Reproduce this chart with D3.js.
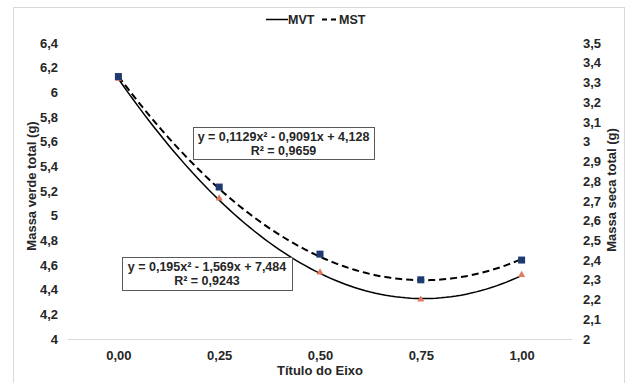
<!DOCTYPE html>
<html>
<head>
<meta charset="utf-8">
<script src="https://cdn.jsdelivr.net/npm/d3@7"></script>
<style>
  body { margin: 0; background: #fff; }
  text { font-family: "Liberation Sans", Arial, sans-serif; font-weight: bold; fill: #262626; }
</style>
</head>
<body>
<div class="canvas"></div>
<script>
// data
const categories = ["0,00", "0,25", "0,50", "0,75", "1,00"]
const mvt = [6.11, 5.14, 4.54, 4.32, 4.52]
const mst = [3.33, 2.77, 2.43, 2.30, 2.40]
const leftTicks = [4, 4.2, 4.4, 4.6, 4.8, 5, 5.2, 5.4, 5.6, 5.8, 6, 6.2, 6.4]
const rightTicks = [2, 2.1, 2.2, 2.3, 2.4, 2.5, 2.6, 2.7, 2.8, 2.9, 3, 3.1, 3.2, 3.3, 3.4, 3.5]
// trendline coefficients (a x^2 + b x + c, x = 1..5)
const mvtFit = [0.195, -1.569, 7.484]
const mstFit = [0.1129, -0.9091, 4.128]
const mvtEq = ["y = 0,195x² - 1,569x + 7,484", "R² = 0,9243"]
const mstEq = ["y = 0,1129x² - 0,9091x + 4,128", "R² = 0,9659"]

/**
 * Dimensions
 */
const dims = { width: 628, height: 383 }
const plot = { left: 68, right: 572, top: 43, bottom: 339 }

const svg = d3.select(".canvas")
    .append("svg")
    .attr("width", dims.width)
    .attr("height", dims.height)

// chart border
svg.append("rect")
    .attr("x", 13.5).attr("y", 7.5)
    .attr("width", 611).attr("height", 380)
    .attr("fill", "none")
    .attr("stroke", "#d9d9d9")

const fmt = d => String(d).replace(".", ",")

/**
 * Scales
 */
const x = d3.scalePoint()
    .domain(categories)
    .range([plot.left, plot.right])
    .padding(0.5)

const yL = d3.scaleLinear().domain([4, 6.4]).range([plot.bottom, plot.top])
const yR = d3.scaleLinear().domain([2, 3.5]).range([plot.bottom, plot.top])

// continuous x for the trendlines
const xt = d3.scaleLinear().domain([1, 5]).range([x(categories[0]), x(categories[4])])

/**
 * Axes
 */
const xAxis = svg.append("g")
    .attr("transform", `translate(0, ${plot.bottom})`)
    .call(d3.axisBottom(x).tickSize(0).tickPadding(12))
xAxis.select(".domain").attr("stroke", "#d9d9d9").attr("d", `M${plot.left},0.5H${plot.right}`)

const leftAxis = svg.append("g")
    .attr("transform", `translate(${plot.left - 4}, 0)`)
    .call(d3.axisLeft(yL).tickValues(leftTicks).tickFormat(fmt).tickSize(0).tickPadding(6))
leftAxis.select(".domain").remove()

const rightAxis = svg.append("g")
    .attr("transform", `translate(${plot.right + 5}, 0)`)
    .call(d3.axisRight(yR).tickValues(rightTicks).tickFormat(fmt).tickSize(0).tickPadding(6))
rightAxis.select(".domain").remove()

svg.selectAll(".tick text")
    .attr("font-size", 13)
    .attr("font-family", "Liberation Sans, Arial, sans-serif")
    .attr("font-weight", "bold")
    .attr("fill", "#262626")

// axis titles
svg.append("text")
    .attr("transform", `translate(36, 186) rotate(-90)`)
    .attr("text-anchor", "middle")
    .attr("font-size", 13)
    .text("Massa verde total (g)")

svg.append("text")
    .attr("transform", `translate(616, 190) rotate(-90)`)
    .attr("text-anchor", "middle")
    .attr("font-size", 13)
    .text("Massa seca total (g)")

svg.append("text")
    .attr("x", 320).attr("y", 375)
    .attr("text-anchor", "middle")
    .attr("font-size", 13)
    .text("Título do Eixo")

/**
 * Trendlines
 */
const poly = (c, t) => c[0] * t * t + c[1] * t + c[2]
const ts = d3.range(1, 5.001, 0.05)

svg.append("path")
    .datum(ts)
    .attr("fill", "none")
    .attr("stroke", "#000")
    .attr("stroke-width", 1.5)
    .attr("d", d3.line().x(t => xt(t)).y(t => yL(poly(mvtFit, t))))

svg.append("path")
    .datum(ts)
    .attr("fill", "none")
    .attr("stroke", "#000")
    .attr("stroke-width", 2)
    .attr("stroke-dasharray", "7,4")
    .attr("d", d3.line().x(t => xt(t)).y(t => yR(poly(mstFit, t))))

/**
 * Markers
 */
svg.selectAll(".tri")
    .data(mvt)
    .enter()
    .append("path")
    .attr("class", "tri")
    .attr("fill", "#e07a5f")
    .attr("d", d3.symbol(d3.symbolTriangle, 22))
    .attr("transform", (d, i) => `translate(${x(categories[i])}, ${yL(d)})`)

svg.selectAll(".sq")
    .data(mst)
    .enter()
    .append("rect")
    .attr("class", "sq")
    .attr("fill", "#1f3a6e")
    .attr("width", 7).attr("height", 7)
    .attr("x", (d, i) => x(categories[i]) - 3.5)
    .attr("y", d => yR(d) - 3.5)

/**
 * Equation labels
 */
const eqBox = (lines, bx, by, bw, bh) => {
    svg.append("rect")
        .attr("x", bx + 0.5).attr("y", by + 0.5)
        .attr("width", bw).attr("height", bh)
        .attr("fill", "#fff")
        .attr("stroke", "#595959")
    lines.forEach((l, i) => {
        svg.append("text")
            .attr("x", bx + bw / 2).attr("y", by + 14 + i * 14)
            .attr("text-anchor", "middle")
            .attr("font-size", 12.5)
            .text(l)
    })
}
eqBox(mstEq, 193, 127, 181, 32)
eqBox(mvtEq, 122, 257, 170, 33)

/**
 * Legend
 */
const legend = svg.append("g")
legend.append("line")
    .attr("x1", 266).attr("x2", 288).attr("y1", 19.5).attr("y2", 19.5)
    .attr("stroke", "#000").attr("stroke-width", 1.5)
legend.append("text").attr("x", 288).attr("y", 24).attr("font-size", 12.5).text("MVT")
legend.append("line")
    .attr("x1", 322).attr("x2", 339).attr("y1", 19.5).attr("y2", 19.5)
    .attr("stroke", "#000").attr("stroke-width", 2).attr("stroke-dasharray", "5,4")
legend.append("text").attr("x", 339).attr("y", 24).attr("font-size", 12.5).text("MST")
</script>
</body>
</html>
